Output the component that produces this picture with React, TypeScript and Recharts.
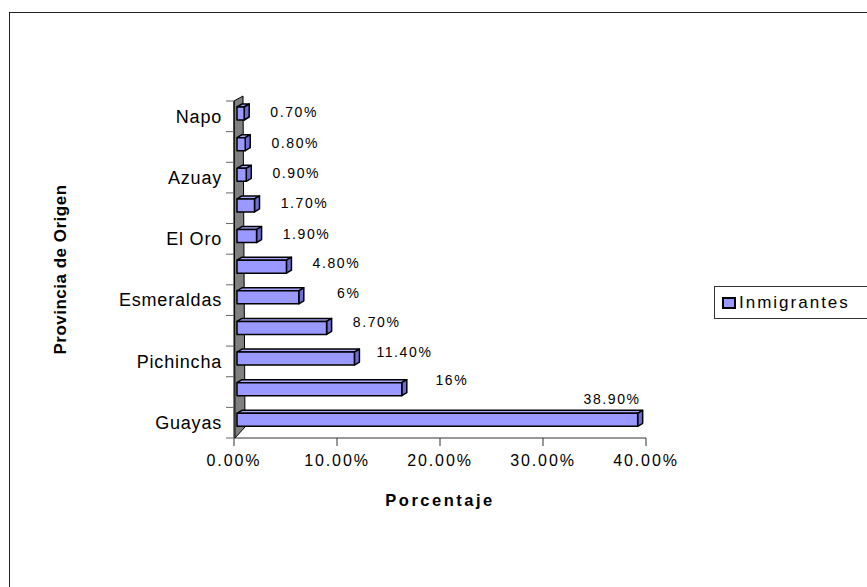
import { BarChart, Bar, XAxis, YAxis, Legend, LabelList, ReferenceArea } from 'recharts';

const categories = ['Napo', '', 'Azuay', '', 'El Oro', '', 'Esmeraldas', '', 'Pichincha', '', 'Guayas'];
const inmigrantes = [0.7, 0.8, 0.9, 1.7, 1.9, 4.8, 6, 8.7, 11.4, 16, 38.9];
const valueLabels = ['0.70%', '0.80%', '0.90%', '1.70%', '1.90%', '4.80%', '6%', '8.70%', '11.40%', '16%', '38.90%'];
const xTicks = [0, 10, 20, 30, 40];

const data = categories.map((provincia, i) => ({
    idx: i,
    provincia,
    inmigrantes: inmigrantes[i],
    label: valueLabels[i],
}));

const FONT = '"Liberation Sans", Arial, sans-serif';
const W = 867;
const H = 587;
const PLOT_LEFT = 234;
const PLOT_RIGHT = 646;
const PLOT_TOP = 101;
const PLOT_BOTTOM = 438;
const BAND = (PLOT_BOTTOM - PLOT_TOP) / categories.length;
const BAR_FILL = '#9999FF';
const DEPTH_X = 5;
const DEPTH_Y = 3;

// category ticks: Excel puts the tick marks between categories
const ProvinciaTick = (props: any) => {
    const { y, payload, index } = props;
    const name = categories[payload.value];
    return (
        <g>
            <line x1={PLOT_LEFT - 8} x2={PLOT_LEFT} y1={y + BAND / 2} y2={y + BAND / 2} stroke="#666" />
            {index === 0 && (
                <line x1={PLOT_LEFT - 8} x2={PLOT_LEFT} y1={y - BAND / 2} y2={y - BAND / 2} stroke="#666" />
            )}
            {name && (
                <text
                    x={PLOT_LEFT - 12}
                    y={y}
                    dy="0.35em"
                    textAnchor="end"
                    fontSize={18}
                    letterSpacing={0.8}
                    fill="#000"
                >
                    {name}
                </text>
            )}
        </g>
    );
};

// 3D-looking bar: front face, top face and right side
const Bar3D = (props: any) => {
    const { x, y, width, height } = props;
    const fx = x + 3;
    const fy = y - 3;
    const w = Math.max(width, 0);
    return (
        <g stroke="#000" strokeWidth={1.5} strokeLinejoin="round">
            <polygon
                points={`${fx},${fy} ${fx + DEPTH_X},${fy - DEPTH_Y} ${fx + w + DEPTH_X},${fy - DEPTH_Y} ${fx + w},${fy}`}
                fill="#A8A8FF"
            />
            <polygon
                points={`${fx + w},${fy} ${fx + w + DEPTH_X},${fy - DEPTH_Y} ${fx + w + DEPTH_X},${fy - DEPTH_Y + height} ${fx + w},${fy + height}`}
                fill="#6E6ED6"
            />
            <rect x={fx} y={fy} width={w} height={height} fill={BAR_FILL} />
        </g>
    );
};

// grey back wall behind the category axis
const Wall = (props: any) => {
    const { x, y, height } = props;
    const bottom = y + height;
    return (
        <polygon
            points={`${x},${y} ${x + 9},${y - 5} ${x + 11},${bottom - 11} ${x + 1},${bottom}`}
            fill="#808080"
            stroke="#000"
            strokeWidth={1}
        />
    );
};

const ValueLabel = (props: any) => {
    const box = props.viewBox ?? props;
    const { x, y, width, height } = box;
    const value = String(props.value);
    const endX = x + width + 3;
    const textW = value.length * 8.5;
    let tx = endX + 50;
    let anchor: 'middle' | 'end' = 'middle';
    if (tx + textW / 2 > PLOT_RIGHT) {
        tx = endX + 3;
        anchor = 'end';
    }
    const ty = y + height / 2 - 4 - width * 0.05;
    return (
        <text x={tx} y={ty} dy="0.35em" textAnchor={anchor} fontSize={14} letterSpacing={1.6} fill="#000">
            {value}
        </text>
    );
};

const renderLegend = () => (
    <div
        style={{
            boxSizing: 'border-box',
            width: 200,
            height: 33,
            border: '1px solid #333',
            display: 'flex',
            alignItems: 'center',
            paddingLeft: 7,
            fontFamily: FONT,
        }}
    >
        <span
            style={{
                display: 'inline-block',
                boxSizing: 'border-box',
                width: 14,
                height: 12,
                border: '2px solid #000',
                background: BAR_FILL,
                marginRight: 3,
            }}
        />
        <span style={{ fontSize: 17, letterSpacing: 2, color: '#000' }}>Inmigrantes</span>
    </div>
);

const App = () => {
    return (
        <div
            style={{
                position: 'absolute',
                left: 0,
                top: 0,
                width: W,
                height: H,
                overflow: 'hidden',
                background: '#fff',
                fontFamily: FONT,
            }}
        >
            <div
                style={{
                    position: 'absolute',
                    left: 9,
                    top: 12,
                    width: 1000,
                    height: 1000,
                    border: '1.5px solid #222',
                }}
            />
            <div style={{ position: 'absolute', left: 0, top: 0 }}>
                <BarChart
                    width={W}
                    height={H}
                    data={data}
                    layout="vertical"
                    barCategoryGap={0}
                    margin={{ top: PLOT_TOP, right: W - PLOT_RIGHT, bottom: H - PLOT_BOTTOM - 75, left: 40 }}
                >
                    <XAxis
                        type="number"
                        domain={[0, 40]}
                        ticks={xTicks}
                        interval={0}
                        tickFormatter={(v: number) => `${v.toFixed(2)}%`}
                        tick={{ fontSize: 16, fill: '#000', letterSpacing: 1.9 }}
                        tickSize={8}
                        tickMargin={9}
                        tickLine={{ stroke: '#333' }}
                        axisLine={{ stroke: '#333' }}
                        height={75}
                        label={{
                            value: 'Porcentaje',
                            position: 'insideBottom',
                            offset: 7,
                            style: { fontSize: 16.5, fontWeight: 'bold', letterSpacing: 2.5, fill: '#000' },
                        }}
                    />
                    <YAxis
                        type="category"
                        dataKey="idx"
                        width={PLOT_LEFT - 40}
                        interval={0}
                        tick={<ProvinciaTick />}
                        tickLine={false}
                        axisLine={{ stroke: '#000' }}
                        label={{
                            value: 'Provincia de Origen',
                            angle: -90,
                            position: 'insideLeft',
                            offset: 20,
                            style: { fontSize: 17, fontWeight: 'bold', letterSpacing: 0.5, fill: '#000', textAnchor: 'middle' },
                        }}
                    />
                    <ReferenceArea x1={0} x2={1} fill="#808080" fillOpacity={1} shape={<Wall />} ifOverflow="visible" />
                    <Legend
                        content={renderLegend}
                        layout="horizontal"
                        verticalAlign="middle"
                        align="center"
                        wrapperStyle={{ position: 'absolute', left: 714, top: 286, width: 200, height: 33 }}
                    />
                    <Bar
                        dataKey="inmigrantes"
                        name="Inmigrantes"
                        fill={BAR_FILL}
                        barSize={13}
                        shape={<Bar3D />}
                        isAnimationActive={false}
                    >
                        <LabelList dataKey="label" content={<ValueLabel />} />
                    </Bar>
                </BarChart>
            </div>
        </div>
    );
};

export default App;
